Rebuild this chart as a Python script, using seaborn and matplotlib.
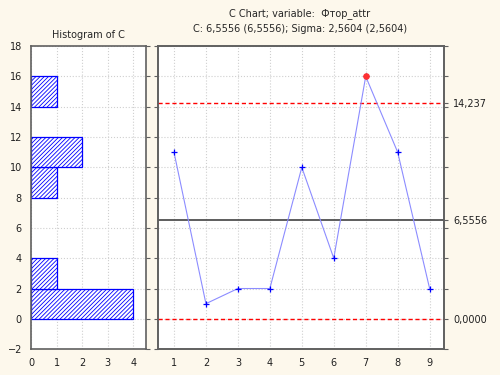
import numpy as np
import pandas as pd
import seaborn as sns
import matplotlib.pyplot as plt

# sample values of the C chart
samples = [1, 2, 3, 4, 5, 6, 7, 8, 9]
counts = [11, 1, 2, 2, 10, 4, 16, 11, 2]
center = 6.5556
ucl = 14.237
lcl = 0.0

# histogram bins (lower edge) and frequencies
bin_lower = [0, 2, 8, 10, 14]
bin_freq = [4, 1, 1, 2, 1]

sns.set_style("white")
plt.rcParams['font.family'] = ['DejaVu Sans']
plt.rcParams['font.size'] = 7
plt.rcParams['hatch.linewidth'] = 0.6
plt.rcParams['hatch.color'] = '#3030ff'

bg = '#fdf8ec'
fig = plt.figure(figsize=(5, 3.75), dpi=100, facecolor=bg)
ax_h = fig.add_axes([0.062, 0.069, 0.23, 0.808])
ax_c = fig.add_axes([0.316, 0.069, 0.572, 0.808])

grid_kw = dict(color='#cfcfcf', linestyle=':', linewidth=0.8)

# histogram on the left
hist_df = pd.DataFrame({'lower': bin_lower, 'freq': bin_freq})
ax_h.barh(hist_df['lower'], hist_df['freq'], height=2, align='edge',
          color='white', edgecolor='#0000ff', hatch='////////', linewidth=0.9)
ax_h.set_xlim(0, 4.5)
ax_h.set_ylim(-2, 18)
ax_h.set_xticks([0, 1, 2, 3, 4])
ax_h.set_yticks(range(-2, 19, 2))
ax_h.grid(True, **grid_kw)
ax_h.set_axisbelow(True)
ax_h.set_title('Histogram of C', fontsize=7, pad=6)
ax_h.tick_params(axis='y', right=True, direction='out')

# control chart on the right
chart_df = pd.DataFrame({'sample': samples, 'count': counts})
ax_c.axhline(center, color='#505050', linewidth=1.3, zorder=3)
ax_c.axhline(ucl, color='#ff0000', linestyle=(0, (3, 2)), linewidth=1.0, zorder=3)
ax_c.axhline(lcl, color='#ff0000', linestyle=(0, (3, 2)), linewidth=1.0, zorder=3)
sns.lineplot(data=chart_df, x='sample', y='count', ax=ax_c, color='#8c8cff',
             linewidth=0.8, marker='+', markersize=5, markeredgecolor='#0000ff',
             markeredgewidth=0.9, zorder=4)
out = chart_df[chart_df['count'] > ucl]
ax_c.scatter(out['sample'], out['count'], color='#ff3030', s=14, zorder=5)
ax_c.set_xlim(0.5, 9.45)
ax_c.set_ylim(-2, 18)
ax_c.set_xticks(samples)
ax_c.set_yticks(range(-2, 19, 2))
ax_c.grid(True, **grid_kw)
ax_c.set_axisbelow(True)
ax_c.set_xlabel('')
ax_c.set_ylabel('')
ax_c.tick_params(axis='y', left=True, labelleft=False)

sec = ax_c.twinx()
sec.set_ylim(-2, 18)
sec.set_yticks([lcl, center, ucl])
sec.set_yticklabels(['0,0000', '6,5556', '14,237'])
sec.set_yticks(range(-2, 19, 2), minor=True)
sec.tick_params(axis='y', which='minor', length=3, width=0.8, color='#606060')

for ax in (ax_h, ax_c, sec):
    ax.set_facecolor('white')
    for s in ax.spines.values():
        s.set_color('#606060')
        s.set_linewidth(1.2)
    ax.tick_params(length=3, width=0.8, color='#606060', labelsize=7, labelcolor='#202020')
sec.set_facecolor('none')

fig.text(0.6, 0.965, 'C Chart; variable:  Фтор_attr', ha='center', va='center', fontsize=7)
fig.text(0.6, 0.922, 'C: 6,5556 (6,5556); Sigma: 2,5604 (2,5604)', ha='center', va='center', fontsize=7)

fig.savefig('out.png', dpi=100, facecolor=bg)
